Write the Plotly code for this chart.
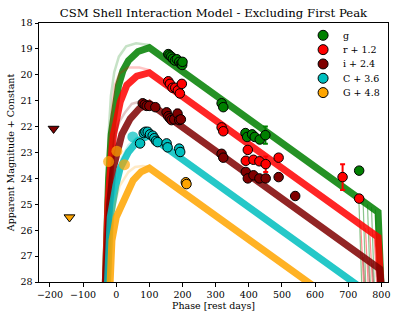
import plotly.graph_objects as go

# ---------------- observed photometry ----------------
g_phase = [157, 161, 166, 171, 177, 183, 190, 195, 199, 200, 318, 323, 390, 395, 410, 418, 433, 450, 733]
g_mag = [19.2, 19.25, 19.3, 19.38, 19.45, 19.4, 19.5, 19.58, 19.62, 19.5, 21.1, 21.25, 22.25, 22.4, 22.3, 22.4, 22.5, 22.33, 23.7]
g_err = [None] * 17 + [0.33, None]

r_phase = [157, 162, 170, 178, 186, 192, 198, 318, 323, 397, 391, 414, 432, 451, 490, 683, 733]
r_mag = [20.25, 20.35, 20.5, 20.5, 20.6, 20.72, 20.35, 22.03, 22.18, 22.9, 23.32, 23.28, 23.34, 23.45, 23.2, 23.95, 24.78]
r_err = [None] * 13 + [0.3, None, 0.5, None]

i_phase = [80, 86, 92, 100, 118, 152, 157, 162, 167, 175, 185, 190, 195, 318, 323, 391, 397, 414, 432, 451, 490, 540]
i_mag = [21.1, 21.15, 21.2, 21.2, 21.25, 21.45, 21.6, 21.68, 21.75, 21.72, 21.5, 21.75, 21.72, 23.05, 23.2, 23.75, 24.0, 23.88, 24.0, 24.0, 23.95, 24.68]
i_err = [None] * 10 + [0.15] + [None] * 11

c_phase = [72, 83, 88, 95, 102, 110, 115, 120, 125, 152, 155, 190, 193]
c_mag = [22.65, 22.25, 22.2, 22.2, 22.3, 22.35, 22.45, 22.55, 22.6, 22.65, 22.8, 22.85, 22.98]

o_phase = [210, 212]
o_mag = [24.15, 24.22]

# excluded first-peak points (shown translucent)
c_excl_phase = [50]
c_excl_mag = [22.4]
o_excl_phase = [-23, 2, 25]
o_excl_mag = [23.35, 22.95, 23.47]

# upper limits
i_lim_phase = [-189]
i_lim_mag = [22.08]
o_lim_phase = [-141]
o_lim_mag = [25.5]

# ---------------- model curves ----------------
g_fit_x = [-34, -28, -23, -15, -5, 7, 20, 37, 66, 100, 790, 800]
g_fit_y = [28.5, 25.5, 24.0, 22.3, 21.2, 20.4, 19.85, 19.45, 19.1, 18.95, 25.3, 28.5]
g_early_x = [-34, -30, -24, -16, -6, 8, 30, 60, 100]
g_early_y = [28.5, 25.5, 22.5, 20.8, 19.9, 19.3, 18.9, 18.78, 18.85]
g_kink_x = [732, 745, 758, 770, 782]
g_kink_y = [24.77, 24.9, 25.0, 25.1, 25.2]
g_drop_x = [742, 754, 768, 780, 793]

r_fit_x = [-34, -25, -15, -8, 12, 32, 62, 100, 790, 800]
r_fit_y = [28.5, 25.0, 23.2, 22.3, 21.05, 20.4, 20.05, 19.92, 26.27, 28.5]
r_early_x = [-34, -30, -22, -12, -4, 10, 36, 70, 100]
r_early_y = [28.5, 25.5, 22.8, 21.2, 20.4, 19.95, 19.72, 19.72, 19.82]
r_kink_x = [738, 752, 765, 778]
r_kink_y = [25.79, 25.92, 26.04, 26.16]
r_drop_x = [748, 762, 775, 788]

i_fit_x = [-34, -20, -9, 17, 42, 70, 100, 795, 802]
i_fit_y = [28.5, 25.0, 23.6, 22.3, 21.7, 21.3, 21.1, 27.49, 28.5]
i_early_x = [-34, -28, -18, -4, 10, 27, 47, 75, 100]
i_early_y = [28.5, 25.8, 23.8, 22.3, 21.8, 21.44, 21.12, 21.02, 21.02]
i_kink_x = [745, 760, 772, 785]
i_kink_y = [27.03, 27.17, 27.28, 27.4]
i_drop_x = [752, 767, 779, 792]

c_fit_x = [-28, -18, -1, 12, 37, 65, 100, 760]
c_fit_y = [28.5, 25.5, 24.27, 23.6, 22.98, 22.55, 22.35, 28.42]
c_early_x = [-30, -22, -12, -2, 6, 16, 37, 65, 100]
c_early_y = [28.5, 26.2, 24.9, 24.2, 23.88, 23.24, 22.72, 22.4, 22.32]

o_fit_x = [-20, -13, 0, 21, 51, 75, 100, 600]
o_fit_y = [28.5, 26.4, 25.5, 24.85, 24.07, 23.75, 23.6, 28.2]
o_early_x = [-22, -16, -10, -4, 10, 37, 57, 80, 100]
o_early_y = [28.5, 26.8, 25.7, 24.97, 24.3, 23.75, 23.56, 23.52, 23.55]

band_names = ["g", "r + 1.2", "i + 2.4", "C + 3.6", "G + 4.8"]
band_colors = ["#008000", "#ff0000", "#800000", "#00bfbf", "#ffa500"]
x_ticks = [-200, -100, 0, 100, 200, 300, 400, 500, 600, 700, 800]
y_ticks = [18, 19, 20, 21, 22, 23, 24, 25, 26, 27, 28]

fig = go.Figure()

fits = [
    (g_fit_x, g_fit_y, g_early_x, g_early_y, g_kink_x, g_kink_y, g_drop_x),
    (r_fit_x, r_fit_y, r_early_x, r_early_y, r_kink_x, r_kink_y, r_drop_x),
    (i_fit_x, i_fit_y, i_early_x, i_early_y, i_kink_x, i_kink_y, i_drop_x),
    (c_fit_x, c_fit_y, c_early_x, c_early_y, [], [], []),
    (o_fit_x, o_fit_y, o_early_x, o_early_y, [], [], []),
]
tail_end_mag = 28.6

for (fx, fy, ex, ey, kx, ky, dx), col in zip(fits, band_colors):
    fig.add_trace(go.Scatter(x=ex, y=ey, mode="lines", line=dict(color=col, width=2.5),
                             opacity=0.22, hoverinfo="skip", showlegend=False))
    for k_x, k_y, d_x in zip(kx, ky, dx):
        fig.add_trace(go.Scatter(x=[k_x, d_x], y=[k_y, tail_end_mag], mode="lines",
                                 line=dict(color=col, width=1.2), opacity=0.45,
                                 hoverinfo="skip", showlegend=False))
    fig.add_trace(go.Scatter(x=fx, y=fy, mode="lines", line=dict(color=col, width=7),
                             opacity=0.85, hoverinfo="skip", showlegend=False))

# translucent excluded points
fig.add_trace(go.Scatter(x=c_excl_phase, y=c_excl_mag, mode="markers",
                         marker=dict(color=band_colors[3], size=11, opacity=0.7), showlegend=False))
fig.add_trace(go.Scatter(x=o_excl_phase, y=o_excl_mag, mode="markers",
                         marker=dict(color=band_colors[4], size=11, opacity=0.7), showlegend=False))

obs = [
    (g_phase, g_mag, g_err),
    (r_phase, r_mag, r_err),
    (i_phase, i_mag, i_err),
    (c_phase, c_mag, None),
    (o_phase, o_mag, None),
]
for (px, pm, pe), col, name in zip(obs, band_colors, band_names):
    err = None
    if pe is not None:
        err = dict(type="data", array=pe, visible=True, color=col, thickness=2, width=2.5)
    fig.add_trace(go.Scatter(x=px, y=pm, mode="markers", name=name, error_y=err,
                             marker=dict(color=col, size=9.5, line=dict(color="black", width=1)),
                             showlegend=False))

fig.add_trace(go.Scatter(x=i_lim_phase, y=i_lim_mag, mode="markers",
                         marker=dict(symbol="triangle-down", color=band_colors[2], size=9.5,
                                     line=dict(color="black", width=1)), showlegend=False))
fig.add_trace(go.Scatter(x=o_lim_phase, y=o_lim_mag, mode="markers",
                         marker=dict(symbol="triangle-down", color=band_colors[4], size=9.5,
                                     line=dict(color="black", width=1)), showlegend=False))

# hand-drawn legend (compact like the reference)
leg_x = 0.814
leg_text_x = 0.866
leg_top = 0.9525
leg_step = 0.0553
shapes = []
annotations = []
for k, (name, col) in enumerate(zip(band_names, band_colors)):
    yy = leg_top - k * leg_step
    shapes.append(dict(type="circle", xref="paper", yref="paper", xsizemode="pixel", ysizemode="pixel",
                       xanchor=leg_x, yanchor=yy, x0=-5, x1=5, y0=-5, y1=5,
                       fillcolor=col, line=dict(color="black", width=1), layer="above"))
    annotations.append(dict(text=name, xref="paper", yref="paper", x=leg_text_x, y=yy,
                            xanchor="left", yanchor="middle", showarrow=False,
                            font=dict(family="DejaVu Serif", size=9.5, color="black")))

axis_common = dict(showline=True, linecolor="black", linewidth=1, mirror=True, showgrid=False,
                   zeroline=False, ticks="outside", ticklen=3.5, tickwidth=0.8, tickcolor="black",
                   automargin=False,
                   tickfont=dict(family="DejaVu Serif", size=9.5, color="black"))

fig.update_layout(
    width=398, height=318,
    margin=dict(l=39, r=10, t=23, b=36, autoexpand=False),
    plot_bgcolor="white", paper_bgcolor="white",
    font=dict(family="DejaVu Serif", size=9.5, color="black"),
    showlegend=False,
    title=dict(text="CSM Shell Interaction Model - Excluding First Peak", xref="paper", x=0.5,
               xanchor="center", yref="container", y=0.958, yanchor="middle",
               font=dict(family="DejaVu Serif", size=11.7, color="black")),
    xaxis=dict(range=[-233, 820], tickvals=x_ticks,
               title=dict(text="Phase [rest days]", standoff=3,
                          font=dict(family="DejaVu Serif", size=9.5)), **axis_common),
    yaxis=dict(range=[28, 18], tickvals=y_ticks,
               title=dict(text="Apparent Magnitude + Constant", standoff=4,
                          font=dict(family="DejaVu Serif", size=9.5)), **axis_common),
    shapes=shapes,
    annotations=annotations,
)

fig.write_html("out.html", config={"displayModeBar": False},
               post_script="document.body.style.margin='0';")
